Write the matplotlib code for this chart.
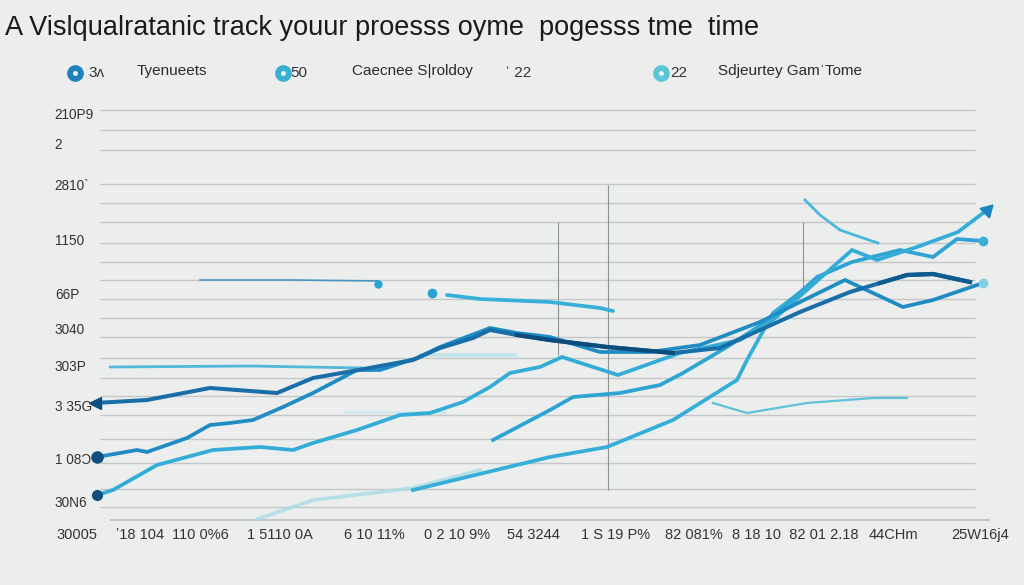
import matplotlib
matplotlib.use("Agg")
import matplotlib.pyplot as plt
from matplotlib import font_manager

# ---------------- data (x = days, y = progress score) ----------------
title_text = "A Vislqualratanic track youur proesss oyme  pogesss tme  time"

legend_labels = ["Tyenueets", "Caecnee S|roldoy", "Sdjeurtey Gam\u02c8Tome"]
legend_nums = ["3\u028c", "50", "\u02bf 22", "22"]

ytick_labels = ["210P9", "2", "2810`", "1150", "66P", "3040", "303P", "3 35G", "1 08\u0186", "30N6"]
ytick_values = [405, 375, 334, 279, 225, 190, 153, 113, 60, 17]

xtick_labels = ["30005", "\u02bc18 104", "110 0%6", "1 5110 0A", "6 10 11%", "0 2 10 9%",
                "54 3244", "1 S 19 P%", "82 081%", "8 18 10  82 01 2.18", "44CHm", "25W16j4"]
xtick_values = [-18, 45, 105, 185, 279, 362, 438, 521, 599, 700, 798, 885]

grid_values = [410, 390, 370, 336, 317, 298, 277, 258, 240, 221, 202, 183,
               162, 142, 124, 105, 81, 57, 31, 13]

s1_x = [0, 52, 115, 182, 218, 258, 318, 345, 378, 395, 422, 455, 512, 578, 625, 665, 705, 755, 785, 812, 838, 875]
s1_y = [117, 120, 132, 127, 142, 149, 160, 172, 182, 190, 185, 180, 173, 167, 172, 190, 208, 228, 237, 245, 246, 238]

s2_x = [2, 42, 52, 92, 115, 135, 158, 188, 218, 262, 285, 322, 345, 395, 422, 455, 505, 555, 605, 665, 705, 750, 808, 838, 888]
s2_y = [63, 70, 68, 82, 95, 97, 100, 113, 127, 150, 150, 162, 173, 192, 187, 183, 168, 168, 175, 198, 218, 240, 213, 220, 237]

s3_x = [2, 18, 62, 118, 165, 198, 218, 262, 305, 335, 368, 395, 415, 445, 467, 523, 585, 645, 678, 757, 782, 822, 863, 892]
s3_y = [25, 30, 55, 70, 73, 70, 77, 90, 105, 107, 118, 133, 147, 153, 163, 145, 167, 180, 200, 270, 260, 273, 288, 310]

s4_x = [398, 455, 478, 525, 565, 588, 632, 678, 722, 757, 805, 838, 862, 888]
s4_y = [80, 110, 123, 127, 135, 147, 173, 203, 243, 258, 270, 263, 281, 279]

s5_x = [318, 455, 512, 578, 642, 652, 678, 712]
s5_y = [30, 63, 73, 100, 140, 160, 207, 233]

s5_faint_x = [160, 218, 318, 385]
s5_faint_y = [0, 20, 32, 50]

s7_x = [15, 155, 268]
s7_y = [153, 154, 152]

s8a_x = [105, 200, 283]
s8a_y = [240, 240, 239]

s8b_x = [352, 385, 455, 505, 518]
s8b_y = [225, 221, 218, 212, 209]

s9_x = [710, 725, 745, 765, 783]
s9_y = [320, 305, 290, 283, 277]

s10_x = [618, 652, 712, 778, 812]
s10_y = [117, 107, 117, 122, 122]

pale1_x = [325, 420]
pale1_y = [165, 165]
pale2_x = [250, 350]
pale2_y = [108, 108]

vline_x = [463, 513, 708]
vline_ylo = [165, 30, 230]
vline_yhi = [298, 335, 298]

# ---------------- fonts ----------------
avail = {f.name for f in font_manager.fontManager.ttflist}
fam = [f for f in ["Liberation Sans Narrow", "Liberation Sans", "DejaVu Sans"] if f in avail]
plt.rcParams["font.family"] = fam + ["DejaVu Sans"]

# ---------------- figure ----------------
W, H = 1024, 585
fig = plt.figure(figsize=(W / 100, H / 100), dpi=100, facecolor="#eceeed")
ax = fig.add_axes([50 / W, 45 / H, 950 / W, 440 / H])
ax.set_facecolor("none")
ax.set_xlim(-45, 905)
ax.set_ylim(-20, 420)
for s in ax.spines.values():
    s.set_visible(False)
ax.set_xticks([])
ax.set_yticks([])

LW = 2.7

# gridlines
ax.hlines(grid_values, 5, 880, color="#c4c7c7", lw=1.0, zorder=1)
ax.hlines([0], 15, 895, color="#b9bdbd", lw=1.2, zorder=1)
ax.vlines(vline_x, vline_ylo, vline_yhi, color="#8d9292", lw=0.8, zorder=1)

# faint lines
ax.plot(s5_faint_x, s5_faint_y, color="#a9dce6", lw=LW, alpha=0.8, zorder=2, solid_capstyle="round")
ax.plot(pale1_x, pale1_y, color="#b7e2ea", lw=LW, alpha=0.8, zorder=2)
ax.plot(pale2_x, pale2_y, color="#c7e6ec", lw=2, alpha=0.8, zorder=2)

# main series
ax.plot(s7_x, s7_y, color="#52b9d8", lw=2.0, zorder=3, solid_capstyle="round")
ax.plot(s8a_x, s8a_y, color="#2a86bb", lw=1.2, zorder=3, alpha=0.8)
ax.plot([s8a_x[-1]], [s8a_y[-1] - 3], "o", color="#2aa3d2", ms=5, zorder=4)
ax.plot(s8b_x, s8b_y, color="#36b0d9", lw=LW, zorder=3, solid_capstyle="round")
ax.plot([s8b_x[0] - 15], [s8b_y[0] + 2], "o", color="#2aa3d2", ms=6, zorder=4)
ax.plot(s10_x, s10_y, color="#5fc2da", lw=1.6, zorder=3)
ax.plot(s9_x, s9_y, color="#4ab8dc", lw=2.0, zorder=3)
ax.plot(s5_x, s5_y, color="#35aed8", lw=LW, zorder=4, solid_joinstyle="miter")
ax.plot(s4_x, s4_y, color="#2ea4d4", lw=LW, zorder=4, solid_joinstyle="miter")
ax.plot([s4_x[-1]], [s4_y[-1]], "o", color="#3aaed6", ms=6, zorder=5)
ax.plot(s3_x, s3_y, color="#34acd8", lw=LW, zorder=4, solid_joinstyle="miter")
ax.plot([s3_x[0]], [s3_y[0]], "o", color="#0f4f80", ms=7, zorder=6)
ax.plot([s3_x[-1]], [s3_y[-1]], marker=(3, 0, -45), color="#1c86c0", ms=11, zorder=6)
ax.plot(s2_x, s2_y, color="#1f8cc4", lw=LW, zorder=5, solid_joinstyle="miter")
ax.plot([s2_x[0]], [s2_y[0]], "o", color="#0f4f80", ms=8, zorder=6)
ax.plot([s2_x[-1]], [s2_y[-1]], "o", color="#7fd0e0", ms=6, zorder=6)
ax.plot(s1_x, s1_y, color="#1a6ea8", lw=LW + 0.2, zorder=5, solid_joinstyle="miter")
ax.plot(s1_x[10:14], s1_y[10:14], color="#0d4d7e", lw=LW + 0.4, zorder=6)
ax.plot(s1_x[-4:], s1_y[-4:], color="#0f5a8e", lw=LW + 0.4, zorder=6)
ax.plot([s1_x[0]], [s1_y[0]], marker="<", color="#0f4f80", ms=8, zorder=6)

# tick labels
ytr = ax.get_yaxis_transform()
for lab, v in zip(ytick_labels, ytick_values):
    ax.text(0.005, v, lab, transform=ytr, ha="left", va="center",
            fontsize=9.8, color="#333333", clip_on=False)
for lab, v in zip(xtick_labels, xtick_values):
    ax.text(v, -15, lab, ha="center", va="center", fontsize=10.5,
            color="#333333", clip_on=False)

# title
fig.text(5 / W, 1 - 28 / H, title_text, ha="left", va="center",
         fontsize=19.5, color="#1a1a1a")

# legend row
ly = 1 - 73 / H
marker_x = [75, 283, 661]
marker_c = ["#1f82bd", "#3aaed0", "#5ac6d6"]
for mx, mc in zip(marker_x, marker_c):
    fig.add_artist(plt.Line2D([mx / W], [ly], marker="o", ms=11, color=mc,
                              transform=fig.transFigure))
    fig.add_artist(plt.Line2D([mx / W], [ly], marker="o", ms=2.5, color="#e6f4f8",
                              transform=fig.transFigure))
num_x = [88, 290, 505, 670]
for nx, t in zip(num_x, legend_nums):
    fig.text(nx / W, ly, t, ha="left", va="center", fontsize=11, color="#333333")
lab_x = [137, 352, 718]
for lx, t in zip(lab_x, legend_labels):
    fig.text(lx / W, ly + 2 / H, t, ha="left", va="center", fontsize=11,
             color="#2a2a2a")

fig.savefig("out.png", dpi=100, facecolor=fig.get_facecolor())
